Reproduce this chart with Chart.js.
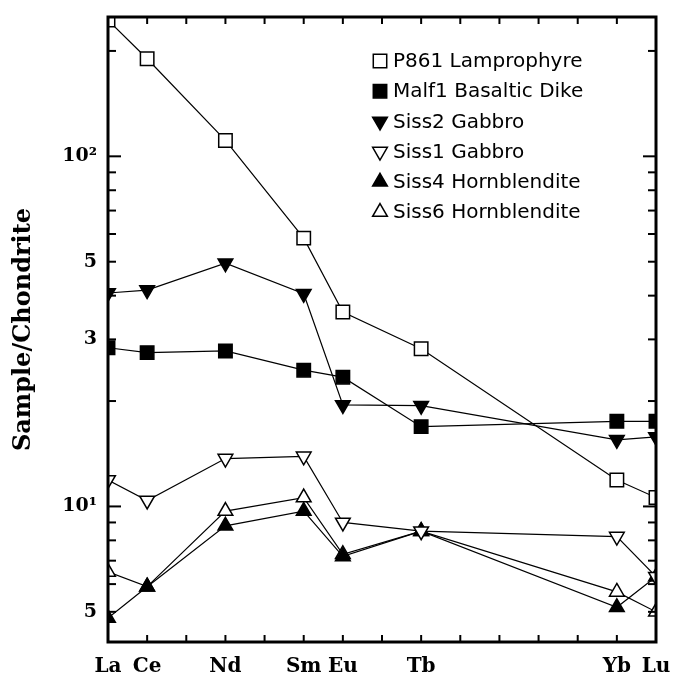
<!DOCTYPE html>
<html><head><meta charset="utf-8">
<script src="https://cdn.jsdelivr.net/npm/chart.js@4.4.1/dist/chart.umd.min.js"></script>
<style>html,body{margin:0;padding:0;background:#fff}#wrap{width:674px;height:680px}</style>
</head><body><div id="wrap"><canvas id="c" width="674" height="680"></canvas></div>
<script>
const elements = ['La','Ce','Nd','Sm','Eu','Tb','Yb','Lu'];
const atomicNumbers = [57,58,60,62,63,65,70,71];
const p861  = [245, 190, 111, 58.4, 35.9, 28.2, 11.9, 10.6];
const malf1 = [28.4, 27.5, 27.8, 24.5, 23.4, 16.9, 17.5, 17.5];
const siss2 = [40.7, 41.5, 49.5, 40.5, 19.5, 19.4, 15.5, 15.8];
const siss1 = [11.9, 10.4, 13.7, 13.9, 9.0, 8.5, 8.2, 6.3];
const siss4 = [4.8, 5.9, 8.8, 9.7, 7.2, 8.5, 5.15, 6.3];
const siss6 = [6.5, 5.9, 9.7, 10.6, 7.3, 8.5, 5.7, 5.0];
const seriesNames = ['P861 Lamprophyre','Malf1 Basaltic Dike','Siss2 Gabbro','Siss1 Gabbro','Siss4 Hornblendite','Siss6 Hornblendite'];
const yTickValues = [5, 10, 30, 50, 100];
const yTickLabels = ['5', '10\u00B9', '3', '5', '10\u00B2'];
const yMinorTicks = [5,6,7,8,9,10,20,30,40,50,60,70,80,90,100,200];
const xMinorTicks = [57,58,59,60,61,62,63,64,65,66,67,68,69,70,71];
const yTitle = 'Sample/Chondrite';

const toPoints = arr => arr.map((v,i)=>({x:atomicNumbers[i], y:v}));
const styles = [
  {pointStyle:'rect', rotation:0, fill:'#fff', r:9.5},
  {pointStyle:'rect', rotation:0, fill:'#000', r:9.5},
  {pointStyle:'triangle', rotation:180, fill:'#000', r:8.5},
  {pointStyle:'triangle', rotation:180, fill:'#fff', r:8.5},
  {pointStyle:'triangle', rotation:0, fill:'#000', r:8.5},
  {pointStyle:'triangle', rotation:0, fill:'#fff', r:8.5}
];
const seriesData = [p861, malf1, siss2, siss1, siss4, siss6];
const datasets = seriesData.map((d,i)=>({
  label: seriesNames[i],
  data: toPoints(d),
  borderColor:'#000', borderWidth:1.2,
  pointStyle: styles[i].pointStyle, pointRotation: styles[i].rotation,
  pointRadius: styles[i].r, pointBackgroundColor: styles[i].fill,
  pointBorderColor:'#000', pointBorderWidth:1.5, tension:0, fill:false
}));

function seg(ctx,x1,y1,x2,y2){ctx.beginPath();ctx.moveTo(x1,y1);ctx.lineTo(x2,y2);ctx.stroke();}
const framePlugin = {
  id:'frame',
  afterDatasetsDraw(chart){
    const {ctx, chartArea:a, scales:{x,y}} = chart;
    ctx.save();
    ctx.strokeStyle='#000'; ctx.lineWidth=2;
    yMinorTicks.forEach(v=>{
      const py=y.getPixelForValue(v);
      if(py<a.top||py>a.bottom) return;
      const len=(v===10||v===100)?13:8;
      seg(ctx,a.left,py,a.left+len,py); seg(ctx,a.right,py,a.right-len,py);
    });
    xMinorTicks.forEach(v=>{
      const px=x.getPixelForValue(v);
      seg(ctx,px,a.bottom,px,a.bottom-7); seg(ctx,px,a.top,px,a.top+7);
    });
    ctx.lineWidth=3;
    ctx.strokeRect(a.left,a.top,a.width,a.height);
    ctx.restore();
  },
  afterDraw(chart){
    const ctx=chart.ctx;
    ctx.save();
    const x0=380, y0=61, dy=30.2;
    chart.data.datasets.forEach((ds,i)=>{
      const yy=y0+i*dy;
      ctx.fillStyle=ds.pointBackgroundColor; ctx.strokeStyle='#000'; ctx.lineWidth=1.5;
      Chart.helpers.drawPoint(ctx,{pointStyle:ds.pointStyle,rotation:ds.pointRotation,radius:ds.pointRadius,borderWidth:1.5},x0,yy);
      ctx.fillStyle='#000';
      ctx.font='20px "DejaVu Sans"';
      ctx.textBaseline='middle'; ctx.textAlign='left';
      ctx.fillText(ds.label,x0+13,yy+1);
    });
    ctx.restore();
  }
};

new Chart(document.getElementById('c'),{
  type:'line',
  data:{datasets},
  options:{
    responsive:false, animation:false, devicePixelRatio:1,
    layout:{padding:{top:17,right:18,left:0,bottom:0}},
    plugins:{legend:{display:false},tooltip:{enabled:false}},
    scales:{
      x:{type:'linear',min:57,max:71,
        grid:{display:false,drawTicks:false}, border:{display:false},
        afterBuildTicks:s=>{s.ticks=atomicNumbers.map(v=>({value:v}));},
        afterFit:s=>{s.height=38;s.paddingLeft=0;s.paddingRight=0;},
        ticks:{autoSkip:false,maxRotation:0,padding:13,color:'#000',
          font:{family:'"DejaVu Serif"',weight:'bold',size:20},
          callback:v=>elements[atomicNumbers.indexOf(v)]}
      },
      y:{type:'logarithmic',min:4.1,max:250,
        grid:{display:false,drawTicks:false}, border:{display:false},
        afterBuildTicks:s=>{s.ticks=yTickValues.map(v=>({value:v}));},
        afterFit:s=>{s.width=108;s.paddingTop=0;s.paddingBottom=0;},
        ticks:{autoSkip:false,padding:11,color:'#000',
          font:{family:'"DejaVu Serif"',weight:'bold',size:19},
          callback:v=>yTickLabels[yTickValues.indexOf(v)]},
        title:{display:true,text:yTitle,color:'#000',padding:{top:9,bottom:0},
          font:{family:'"DejaVu Serif"',weight:'bold',size:24}}
      }
    }
  },
  plugins:[framePlugin]
});
</script></body></html>
